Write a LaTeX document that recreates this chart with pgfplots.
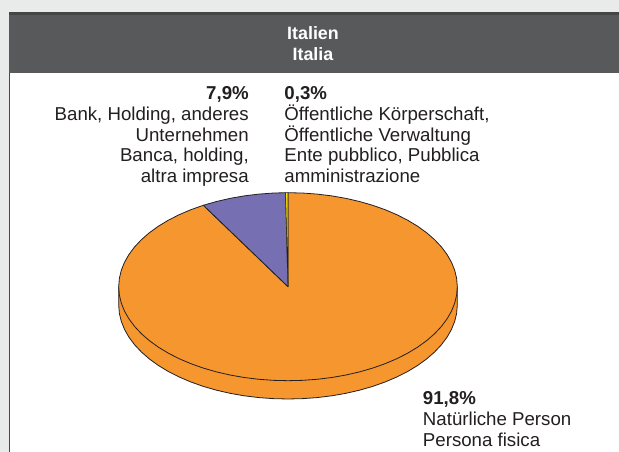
\documentclass[border=0pt]{standalone}
\usepackage{pgfplots}
\pgfplotsset{compat=1.18}
\usepackage{fontspec}
\setmainfont{Liberation Sans}
\definecolor{pagebg}{HTML}{E9EBEA}
\definecolor{headbar}{HTML}{58595B}
\definecolor{headtop}{HTML}{454547}
\definecolor{pieorange}{HTML}{F6962F}
\definecolor{piepurple}{HTML}{7670B2}
\definecolor{pieyellow}{HTML}{FFE500}
\definecolor{ink}{HTML}{231F20}
\tikzset{
    lbl/.style={font=\fontsize{14}{15.5}\selectfont, text=ink, inner sep=0pt},
    lblb/.style={font=\fontsize{14}{15.5}\selectfont\bfseries, text=ink, inner sep=0pt},
    head/.style={font=\fontsize{13.4}{15.5}\selectfont\bfseries, text=white, inner sep=0pt, anchor=base},
}
\begin{document}
\begin{tikzpicture}
\begin{axis}[
    scale only axis,
    width=464.25pt,
    height=339pt,
    xmin=0, xmax=619,
    ymin=0, ymax=452,
    y dir=reverse,
    axis lines=none,
    every axis plot/.append style={line join=round},
]
% page, panel and header band
\addplot[fill=pagebg, draw=none] coordinates {(0,0) (619,0) (619,452) (0,452)} --cycle;
\addplot[fill=white, draw=none] coordinates {(10,13) (619,13) (619,452) (10,452)} --cycle;
\addplot[draw=headbar!80!black, line width=0.75pt] coordinates {(9.7,452) (9.7,13)};
\addplot[fill=headbar, draw=none] coordinates {(9.2,12) (619,12) (619,73) (9.2,73)} --cycle;
\addplot[fill=headtop, draw=none] coordinates {(9.2,12) (619,12) (619,15) (9.2,15)} --cycle;

% side of the disc, lower half, 18.3 below the top face
\addplot[fill=pieorange, draw=ink, line width=0.6pt] coordinates {
(457.3,286.7) (457.3,305) (456.65,313.19) (454.73,321.32) (451.53,329.33) (447.09,337.15) (441.44,344.73)
(434.62,352) (426.68,358.92) (417.69,365.42) (407.71,371.47) (396.82,377.01) (385.11,382)
(372.65,386.41) (359.55,390.19) (345.9,393.33) (331.82,395.8) (317.4,397.57) (302.76,398.64)
(288,399) (273.24,398.64) (258.6,397.57) (244.18,395.8) (230.1,393.33) (216.45,390.19)
(203.35,386.41) (190.89,382) (179.18,377.01) (168.29,371.47) (158.31,365.42) (149.32,358.92)
(141.38,352) (134.56,344.73) (128.91,337.15) (124.47,329.33) (121.27,321.32) (119.35,313.19)
(118.7,305) (118.7,286.7)} --cycle;

% large slice, 91,8 %
\addplot[fill=pieorange, draw=ink, line width=0.6pt] coordinates {
(288,286.7) (288,192.7) (302.76,193.06) (317.4,194.13) (331.82,195.9) (345.9,198.37) (359.55,201.51)
(372.65,205.29) (385.11,209.7) (396.82,214.69) (407.71,220.23) (417.69,226.28) (426.68,232.78)
(434.62,239.7) (441.44,246.97) (447.09,254.55) (451.53,262.37) (454.73,270.38) (456.65,278.51)
(457.3,286.7) (456.65,294.89) (454.73,303.02) (451.53,311.03) (447.09,318.85) (441.44,326.43)
(434.62,333.7) (426.68,340.62) (417.69,347.12) (407.71,353.17) (396.82,358.71) (385.11,363.7)
(372.65,368.11) (359.55,371.89) (345.9,375.03) (331.82,377.5) (317.4,379.27) (302.76,380.34)
(288,380.7) (273.24,380.34) (258.6,379.27) (244.18,377.5) (230.1,375.03) (216.45,371.89)
(203.35,368.11) (190.89,363.7) (179.18,358.71) (168.29,353.17) (158.31,347.12) (149.32,340.62)
(141.38,333.7) (134.56,326.43) (128.91,318.85) (124.47,311.03) (121.27,303.02) (119.35,294.89)
(118.7,286.7) (119.35,278.51) (121.27,270.38) (124.47,262.37) (128.91,254.55) (134.56,246.97)
(141.38,239.7) (149.32,232.78) (158.31,226.28) (168.29,220.23) (179.18,214.69) (190.89,209.7)
(203.35,205.29)} --cycle;

% 7,9 %
\addplot[fill=piepurple, draw=ink, line width=0.6pt] coordinates {
(288,286.7) (203.35,205.29) (216.45,201.51) (230.1,198.37) (244.18,195.9) (258.6,194.13)
(273.24,193.06) (285.6,192.72)} --cycle;

% 0,3 %
\addplot[fill=pieyellow, draw=ink, line width=0.4pt] coordinates {
(288,286.7) (285.6,192.72) (288,192.7)} --cycle;

% header
\node[head] at (axis cs:313,40) {Italien};
\node[head] at (axis cs:313,60.4) {Italia};

% labels, left
\node[lblb, anchor=base east] at (axis cs:249,99.6) {7,9\%};
\node[lbl, anchor=base east] at (axis cs:249,120.4) {Bank, Holding, anderes};
\node[lbl, anchor=base east] at (axis cs:249,141.2) {Unternehmen};
\node[lbl, anchor=base east] at (axis cs:249,161.8) {Banca, holding,};
\node[lbl, anchor=base east] at (axis cs:249,182.6) {altra impresa};

% labels, right
\node[lblb, anchor=base west] at (axis cs:284.2,99.6) {0,3\%};
\node[lbl, anchor=base west] at (axis cs:284.2,120.4) {Öffentliche Körperschaft,};
\node[lbl, anchor=base west] at (axis cs:284.2,141.2) {Öffentliche Verwaltung};
\node[lbl, anchor=base west] at (axis cs:284.2,161.8) {Ente pubblico, Pubblica};
\node[lbl, anchor=base west] at (axis cs:284.2,182.6) {amministrazione};

% labels, bottom
\node[lblb, anchor=base west] at (axis cs:422.7,405) {91,8\%};
\node[lbl, anchor=base west] at (axis cs:422.7,425.8) {Natürliche Person};
\node[lbl, anchor=base west] at (axis cs:422.7,446.6) {Persona fisica};
\end{axis}
\end{tikzpicture}
\end{document}
